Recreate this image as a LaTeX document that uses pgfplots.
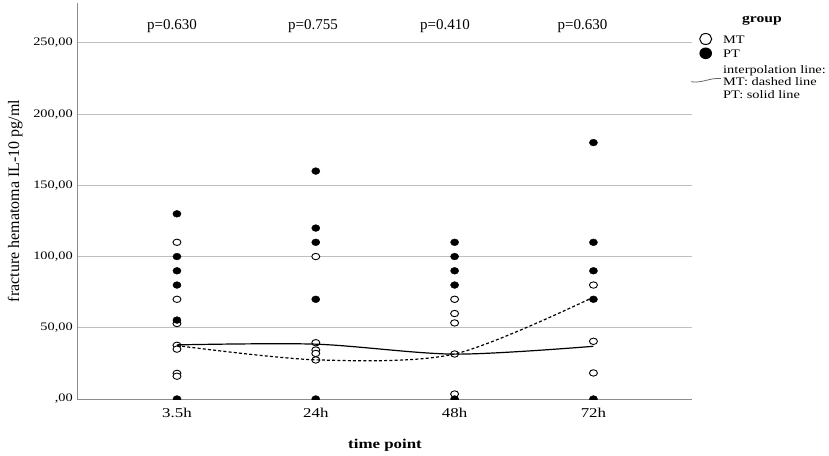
\documentclass[border=0pt]{standalone}
\usepackage{fontspec}
\setmainfont[FakeStretch=1.25]{Liberation Serif}
\newfontfamily\pfont{Liberation Serif}
\usepackage{pgfplots}
\pgfplotsset{compat=1.18}
\begin{document}
\begin{tikzpicture}[x=1pt,y=1pt]
\useasboundingbox (0,0) rectangle (829,455);
\begin{axis}[at={(77pt,56pt)}, anchor=south west, scale only axis,
  width=615pt, height=396pt,
  xmin=-0.72, xmax=3.71, ymin=0, ymax=278,
  axis lines=left, axis line style={-, draw=black!45, line width=1pt},
  xtick={0,1,2,3}, xticklabels={3.5h,24h,48h,72h},
  ytick={0,50,100,150,200,250},
  yticklabels={{,00},{50,00},{100,00},{150,00},{200,00},{250,00}},
  major tick length=0pt,
  ymajorgrids, grid style={draw=black!25, line width=1pt},
  yticklabel style={font=\fontsize{11.5}{12}\selectfont, inner sep=0pt, xshift=-4pt},
  xticklabel style={font=\fontsize{13.5}{14}\selectfont, inner sep=0pt, yshift=-9pt},
  clip marker paths=true,
]
% MT (open)
\addplot[only marks, mark=*, mark size=3.2pt, mark options={fill=white, draw=black, line width=0.9pt, xscale=1.25}] coordinates {
 (0,110) (0,70) (0,53) (0,37.7) (0,35) (0,18) (0,16)
 (1,100) (1,39.5) (1,34.4) (1,32) (1,27.4)
 (2,70) (2,60) (2,53.4) (2,31.6) (2,3.5)
 (3,80) (3,40.5) (3,18.3)
};
% PT (filled)
\addplot[only marks, mark=*, mark size=3.4pt, mark options={fill=black, draw=black, xscale=1.2}] coordinates {
 (0,130) (0,100) (0,90) (0,80) (0,55.4) (0,0)
 (1,160) (1,120) (1,110) (1,70) (1,0)
 (2,110) (2,100) (2,90) (2,80) (2,0)
 (3,180) (3,110) (3,90) (3,70) (3,0)
};
% PT interpolation (solid)
\addplot[smooth, black, line width=1.2pt, no markers] coordinates {(0,38) (1,38.5) (2,31.5) (3,37)};
% MT interpolation (dashed)
\addplot[smooth, black, line width=1.2pt, dash pattern=on 3pt off 2.2pt, no markers] coordinates {(0,37.5) (1,27.5) (2,31.6) (3,71.5)};
\end{axis}
% p values
\begin{scope}[every node/.style={anchor=base, inner sep=0pt, font=\pfont\fontsize{15}{16}\selectfont}]
\node at (172,425.7) {p=0.630};
\node at (313,425.7) {p=0.755};
\node at (445,425.7) {p=0.410};
\node at (582.5,425.7) {p=0.630};
\end{scope}
% axis titles
\node[anchor=base, inner sep=0pt, font=\bfseries\fontsize{13.5}{14}\selectfont] at (385,6.7) {time point};
\node[anchor=base, inner sep=0pt, rotate=90, font=\pfont\fontsize{16}{17}\selectfont] at (19,254) {fracture hematoma IL-10 pg/ml};
% legend
\node[anchor=base, inner sep=0pt, font=\bfseries\fontsize{12.5}{13}\selectfont] at (762,432.3) {group};
\draw[line width=1pt, fill=white] (705.7,416) ellipse (6 and 5.5);
\fill[black] (705.7,401.7) ellipse (6.3 and 5.8);
\begin{scope}[every node/.style={anchor=base west, inner sep=0pt, font=\fontsize{11.5}{12}\selectfont}]
\node at (723,411.7) {MT};
\node at (723,397.3) {PT};
\node at (723,381) {interpolation line:};
\node at (723,369.7) {MT: dashed line};
\node at (723,356.3) {PT: solid line};
\end{scope}
\draw[black!60, line width=0.8pt] (691,373.3) .. controls (702,371.5) and (710,377.5) .. (721,376.5);
\end{tikzpicture}
\end{document}
